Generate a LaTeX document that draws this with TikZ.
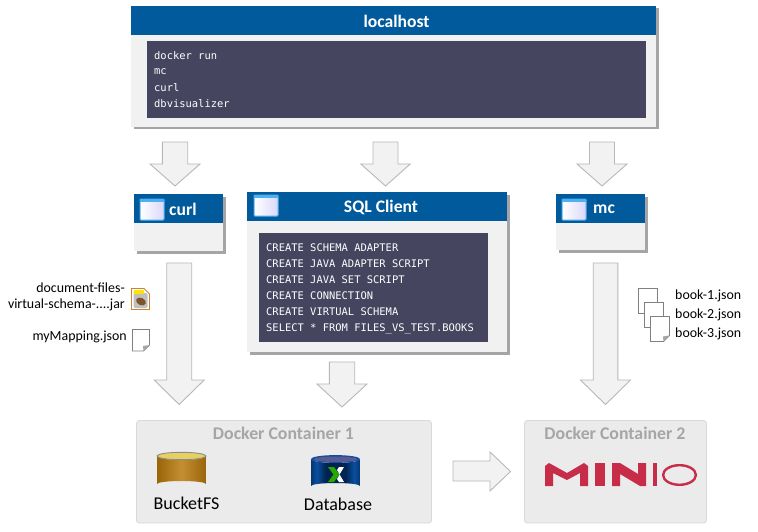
\documentclass[tikz,border=0pt]{standalone}
\usepackage{fontspec}
\setmainfont{Carlito}
\newfontfamily\codefont{DejaVu Sans Mono}
\usetikzlibrary{shadows}
\definecolor{hdrblue}{HTML}{005A9B}
\definecolor{panelgrey}{HTML}{F1F1F1}
\definecolor{codebg}{HTML}{45455F}
\definecolor{arrowfill}{HTML}{F2F2F2}
\definecolor{arrowline}{HTML}{B8B8B8}
\definecolor{contfill}{HTML}{EBEBEB}
\definecolor{contline}{HTML}{D9D9D9}
\definecolor{conttext}{HTML}{A6A6A6}
\definecolor{miniored}{HTML}{C72C48}
\definecolor{bucketmid}{HTML}{C48F33}
\definecolor{bucketdark}{HTML}{9A6508}
\definecolor{dbdark}{HTML}{00234F}
\definecolor{dbblue}{HTML}{0B4FA0}
\definecolor{iconblue}{HTML}{4FB0F0}
\definecolor{iconlav}{HTML}{DAD8FA}
\pgfdeclarehorizontalshading{dbshade}{100bp}{
  color(0bp)=(dbdark!60!dbblue);
  color(25bp)=(dbdark!60!dbblue);
  color(31bp)=(dbblue);
  color(40bp)=(dbdark);
  color(60bp)=(dbdark);
  color(69bp)=(dbblue);
  color(75bp)=(dbdark!60!dbblue);
  color(100bp)=(dbdark!60!dbblue)}
\tikzset{
  panel/.style={fill=panelgrey,draw=none,general shadow={shadow xshift=2.5pt,shadow yshift=-2.5pt,fill=black!50,opacity=.7}},
  header/.style={fill=hdrblue,draw=none},
  codebox/.style={fill=codebg,draw=none},
  hdrtext/.style={text=white,font=\fontsize{17.6}{20}\selectfont\bfseries,inner sep=0pt},
  codetext/.style={text=white,font=\codefont\fontsize{10.45}{12}\selectfont,anchor=west,inner sep=0pt},
  filetext/.style={text=black,font=\fontsize{13.9}{16}\selectfont,inner sep=0pt},
  blockarrow/.style={fill=arrowfill,draw=arrowline,line width=.9pt,line join=miter},
  container/.style={fill=contfill,draw=contline,line width=.9pt,rounded corners=3pt},
  conttitle/.style={text=conttext,font=\fontsize{17.8}{20}\selectfont\bfseries,inner sep=0pt},
  biglabel/.style={text=black,font=\fontsize{18}{20}\selectfont,inner sep=0pt},
  filepage/.style={fill=white,draw=black!50,line width=.9pt},
  fileedge/.style={fill=black!35,draw=none},
}
% window icon: #1 = left, #2 = top (in px)
\newcommand{\winicon}[2]{%
  \shade[left color=white,right color=iconlav,draw=iconblue,line width=1pt,rounded corners=.8pt]
    (#1,#2) rectangle ++(24,21);
  \fill[iconblue] (#1,#2) rectangle ++(24,3);
}
% dog-eared page: #1 = left, #2 = top, #3 = width, #4 = height
\newcommand{\pageicon}[4]{%
  \draw[filepage] (#1,#2) -- ++(#3,0) -- ++(0,#4-6) -- ++(-6,6) -- ++(6-#3,0) -- cycle;
}
\newcommand{\pageeared}[4]{%
  \draw[filepage] (#1,#2) -- ++(#3,0) -- ++(0,#4-6) -- ++(-6,6) -- ++(6-#3,0) -- cycle;
  \fill[fileedge] (#1+#3,#2+#4-6) -- ++(-6,6) -- ++(-.5,-5) -- cycle;
}
% block arrow pointing down: name, cx, top, shoulder, tip, half shaft, half head
\newcommand{\downarrowshape}[7]{%
  \draw[blockarrow] (#2-#6,#3) -- (#2+#6,#3) -- (#2+#6,#4) -- (#2+#7,#4) -- (#2,#5) -- (#2-#7,#4) -- (#2-#6,#4) -- cycle;
}
\begin{document}
\begin{tikzpicture}[x=1pt,y=-1pt]
\useasboundingbox (0,0) rectangle (758,532);
\fill[white] (0,0) rectangle (758,532);

% ---- localhost
\fill[panel] (131,6) rectangle (656,127);
\fill[header] (131,6) rectangle (656,35);
\node[hdrtext] (localhost) at (396.5,21) {localhost};
\fill[codebox] (147,41) rectangle (646,118);
\node[codetext] (c1) at (154,55.5) {docker run};
\node[codetext] (c2) at (154,71.5) {mc};
\node[codetext] (c3) at (154,87.5) {curl};
\node[codetext] (c4) at (154,103.5) {dbvisualizer};

% ---- arrows from localhost
\downarrowshape{a1}{175}{142}{164}{186}{12.7}{25}
\downarrowshape{a2}{385.5}{142}{164}{186}{12.5}{24.7}
\downarrowshape{a3}{602}{142}{164}{186}{12.5}{25}

% ---- curl
\fill[panel] (134,194) rectangle (223,251);
\fill[header] (134,194) rectangle (223,223);
\winicon{140}{199}
\node[hdrtext,anchor=west] (curl) at (169,209.5) {curl};

% ---- SQL Client
\fill[panel] (247,192) rectangle (507,352);
\fill[header] (247,192) rectangle (507,221);
\winicon{254}{195}
\node[hdrtext] (sql) at (381,207) {SQL Client};
\fill[codebox] (259,233) rectangle (488,342);
\node[codetext] (s1) at (266,248) {CREATE SCHEMA ADAPTER};
\node[codetext] (s2) at (266,264) {CREATE JAVA ADAPTER SCRIPT};
\node[codetext] (s3) at (266,280) {CREATE JAVA SET SCRIPT};
\node[codetext] (s4) at (266,296) {CREATE CONNECTION};
\node[codetext] (s5) at (266,312) {CREATE VIRTUAL SCHEMA};
\node[codetext] (s6) at (266,328.5) {SELECT * FROM FILES\_VS\_TEST.BOOKS};

% ---- mc
\fill[panel] (556,194) rectangle (645,250);
\fill[header] (556,194) rectangle (645,223);
\winicon{562}{199}
\node[hdrtext,anchor=west] (mc) at (593,209.5) {mc};

% ---- arrows to containers
\downarrowshape{a4}{179.2}{263}{380}{404.5}{12.5}{25}
\downarrowshape{a5}{342}{362}{384}{407}{12.7}{25}
\downarrowshape{a6}{605.5}{263}{380}{404.5}{12.3}{25}

% ---- file labels left
\node[filetext,anchor=east] (f1) at (125,288) {document-files-};
\node[filetext,anchor=east] (f2) at (125,304.5) {virtual-schema-....jar};
\node[filetext,anchor=east] (f3) at (127,337) {myMapping.json};

% jar icon
\draw[fill=white,draw=brown!75!orange,line width=.9pt] (131.5,288.5) -- (144,288.5) -- (149.5,294) -- (149.5,309.5) -- (131.5,309.5) -- cycle;
\fill[black!25,rounded corners=1.5pt] (133.5,293) rectangle (147.5,308);
\fill[yellow!85!orange,rounded corners=1pt] (133.5,290) rectangle (144,294);
\fill[brown!65!black,rotate around={-25:(141,301.5)}] (141,301.5) ellipse (5.2 and 3.6);

% mapping page
\pageeared{132.5}{329.5}{17}{21.5}

% ---- book pages
\pageicon{638.5}{288.5}{19}{25}
\pageicon{644.5}{302.5}{19}{25}
\pageeared{650.5}{316.5}{19}{25}
\node[filetext,anchor=west] (b1) at (675,296) {book-1.json};
\node[filetext,anchor=west] (b2) at (675,314.5) {book-2.json};
\node[filetext,anchor=west] (b3) at (675,333.5) {book-3.json};

% ---- containers
\draw[container] (136.5,420.5) rectangle (431.5,523);
\node[conttitle] (d1) at (283.5,433.5) {Docker Container 1};
\draw[container] (524.5,420.5) rectangle (706.5,523);
\node[conttitle] (d2) at (615,433.5) {Docker Container 2};

% horizontal arrow
\draw[blockarrow] (453,461) -- (490,461) -- (490,452) -- (510.5,471.5) -- (490,491) -- (490,481) -- (453,481) -- cycle;

% BucketFS cylinder
\shade[left color=bucketdark,right color=bucketdark,middle color=bucketmid]
  (157,456) -- (157,484) arc[start angle=180,end angle=360,x radius=24.5,y radius=3] -- (206,456) arc[start angle=0,end angle=180,x radius=24.5,y radius=4] -- cycle;
\draw[fill=bucketmid!60!yellow!70!white,draw=black!45,line width=.9pt] (181.5,456) ellipse (24.5 and 3.7);
\node[biglabel] (bfs) at (186.5,503) {BucketFS};

% Database cylinder
\shade[shading=dbshade]
  (311,459) -- (311,486) arc[start angle=180,end angle=360,x radius=24.5,y radius=3] -- (360,459) arc[start angle=0,end angle=180,x radius=24.5,y radius=4] -- cycle;
\fill[dbblue] (335.5,459) ellipse (24.5 and 3.9);
\fill[black!25!blue!30!gray] (335.5,459.3) ellipse (22 and 2.8);
\fill[green!60!black!85!yellow] (328,467) -- (334,467) -- (339.5,474.5) -- (334,482) -- (328,482) -- (333.5,474.5) -- cycle;
\fill[white] (344,467) -- (339,467) -- (337,470) -- (339.8,474.5) -- (337,479) -- (339,482) -- (344,482) -- (339.5,474.5) -- cycle;
\node[biglabel] (dbl) at (338,504) {Database};

% MINIO logo
\fill[miniored] (545,466) -- (549,463) -- (567,473) -- (584,463) -- (588,466) -- (588,486) -- (580,486) -- (580,473) -- (567,480) -- (553,473) -- (553,486) -- (545,486) -- cycle;
\fill[miniored] (595,463) rectangle (605,486);
\fill[miniored] (612,463) -- (620,463) -- (638,474) -- (638,463) -- (646,463) -- (646,486) -- (640,486) -- (620,474) -- (620,486) -- (612,486) -- cycle;
\fill[miniored] (653,463) rectangle (657,486);
\draw[miniored,line width=2.4pt] (679.5,475) ellipse (16.4 and 9.8);
\end{tikzpicture}
\end{document}
